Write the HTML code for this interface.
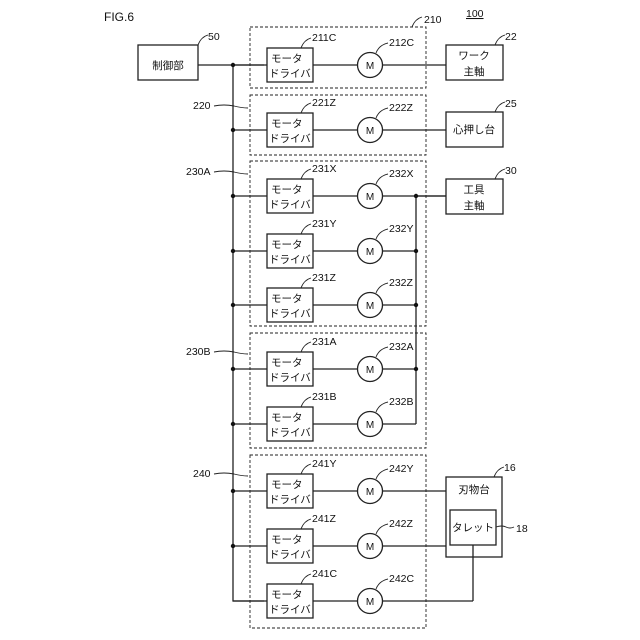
<!DOCTYPE html>
<html><head><meta charset="utf-8"><style>
html,body{margin:0;padding:0;background:#fff;}
svg{display:block;}
text{font-family:"Liberation Sans","Noto Sans CJK JP",sans-serif;fill:#111;}
</style></head><body>
<svg width="640" height="640" viewBox="0 0 640 640" xmlns="http://www.w3.org/2000/svg">
<g fill="none" stroke="#222" stroke-width="1">
<!-- dashed groups -->
<g stroke-dasharray="3,2" stroke-width="0.9">
<rect x="250" y="27" width="176" height="61"/>
<rect x="250" y="95" width="176" height="60"/>
<rect x="250" y="161" width="176" height="165"/>
<rect x="250" y="333" width="176" height="115"/>
<rect x="250" y="455" width="176" height="173"/>
</g>
<g stroke-width="1.3">
<!-- controller -->
<rect x="138" y="45" width="60" height="35"/>
<!-- bus -->
<path d="M198 65 H264 M233 65 V601 H264"/>
<!-- output boxes -->
<rect x="446" y="45" width="57" height="35"/>
<rect x="446" y="112" width="57" height="35"/>
<rect x="446" y="179" width="57" height="35"/>
<rect x="446" y="477" width="56" height="80"/>
<rect x="450" y="510" width="46" height="35"/>
</g>
</g>
<g id="rows" fill="none" stroke="#222" stroke-width="1.3"></g>
<script>
(function(){
var ys=[65,130,196,251,305,369,424,491,546,601];
var g=document.getElementById('rows');var ns='http://www.w3.org/2000/svg';
function el(t,a){var e=document.createElementNS(ns,t);for(var k in a)e.setAttribute(k,a[k]);g.appendChild(e);return e;}
var ends=[446,446,446,416,416,416,416,446,446,473];
ys.forEach(function(y,i){
 el('path',{d:'M233 '+y+' H267'});
 el('rect',{x:267,y:y-17,width:46,height:34,fill:'#fff'});
 el('path',{d:'M313 '+y+' H357.5 M382.5 '+y+' H'+ends[i]});
 el('circle',{cx:370,cy:y,r:12.5,fill:'#fff'});
 if(i<9) el('circle',{cx:233,cy:y,r:2.2,fill:'#111',stroke:'none'});
 var t=el('text',{x:271,y:y-3,'font-size':'10.5',stroke:'none'});t.textContent='モータ';
 var t2=el('text',{x:269,y:y+12,'font-size':'10.5',stroke:'none'});t2.textContent='ドライバ';
 var m=el('text',{x:370,y:y+4,'font-size':'10','text-anchor':'middle',stroke:'none'});m.textContent='M';
});
el('path',{d:'M416 196 V424 M416 196 H446 M473 601 V545'});
[196,251,305,369].forEach(function(y){el('circle',{cx:416,cy:y,r:2.2,fill:'#111',stroke:'none'});});
})();
</script>
<!-- leaders -->
<g fill="none" stroke="#222" stroke-width="0.9">
<path d="M198 45 q3 -8 10 -10"/>
<path d="M495 45 q3 -8 10 -10"/>
<path d="M495 112 q3 -8 10 -10"/>
<path d="M495 179 q3 -8 10 -10"/>
<path d="M494 477 q3 -8 10 -10"/>
<path d="M496 527 q6 -2 10 0 q4 2 8 0"/>
<path d="M412 27 q3 -8 10 -10"/>
<path d="M214 106 q10 -2 20 0 q8 2 14 2"/>
<path d="M214 172 q10 -2 20 0 q8 2 14 2"/>
<path d="M214 352 q10 -2 20 0 q8 2 14 2"/>
<path d="M214 474 q10 -2 20 0 q8 2 14 2"/>
</g>
<g fill="none" stroke="#222" stroke-width="0.9" id="ldr"></g>
<script>
(function(){
var ys=[65,130,196,251,305,369,424,491,546,601];
var dl=['211C','221Z','231X','231Y','231Z','231A','231B','241Y','241Z','241C'];
var ml=['212C','222Z','232X','232Y','232Z','232A','232B','242Y','242Z','242C'];
var ns='http://www.w3.org/2000/svg';var g=document.getElementById('ldr');
function el(t,a){var e=document.createElementNS(ns,t);for(var k in a)e.setAttribute(k,a[k]);g.appendChild(e);return e;}
ys.forEach(function(y,i){
 el('path',{d:'M301 '+(y-17)+' q3 -8 10 -10'});
 el('path',{d:'M376 '+(y-12)+' q3 -8 12 -10'});
 var t=el('text',{x:312,y:y-24,'font-size':'10.5',stroke:'none'});t.textContent=dl[i];
 var t2=el('text',{x:389,y:y-19,'font-size':'10.5',stroke:'none'});t2.textContent=ml[i];
});
})();
</script>
<g font-size="10.5">
<text x="104" y="21" font-size="12">FIG.6</text>
<text x="168" y="69" text-anchor="middle">制御部</text>
<text x="208" y="40">50</text>
<text x="424" y="23">210</text>
<text x="466" y="17" text-decoration="underline">100</text>
<text x="505" y="40">22</text>
<text x="505" y="107">25</text>
<text x="505" y="174">30</text>
<text x="504" y="471">16</text>
<text x="516" y="532">18</text>
<text x="474" y="59" text-anchor="middle">ワーク</text>
<text x="474" y="75" text-anchor="middle">主軸</text>
<text x="474" y="133" text-anchor="middle">心押し台</text>
<text x="474" y="193" text-anchor="middle">工具</text>
<text x="474" y="209" text-anchor="middle">主軸</text>
<text x="474" y="493" text-anchor="middle">刃物台</text>
<text x="473" y="531" text-anchor="middle">タレット</text>
<text x="193" y="109">220</text>
<text x="186" y="175">230A</text>
<text x="186" y="355">230B</text>
<text x="193" y="477">240</text>
</g>
</svg>
</body></html>
